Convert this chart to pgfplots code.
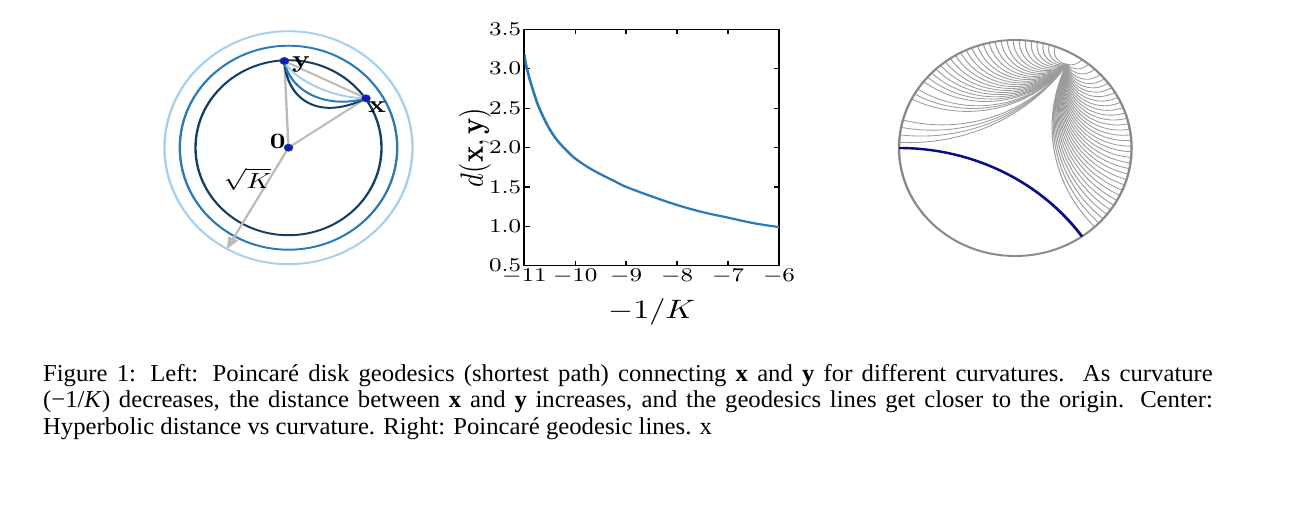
\documentclass[border=0pt]{standalone}
\usepackage[no-math]{fontspec}
\newfontfamily\capfont{Liberation Serif}
\usepackage{graphicx}
\usepackage{pgfplots}
\pgfplotsset{compat=1.18}
\usetikzlibrary{arrows.meta}

\definecolor{lightring}{HTML}{A6D0EE}
\definecolor{midring}{HTML}{2A7AB8}
\definecolor{darkring}{HTML}{163E5E}
\definecolor{curveblue}{HTML}{2A7AB8}
\definecolor{guide}{HTML}{BBBBBB}
\definecolor{diskgrey}{HTML}{8A8A8A}
\definecolor{fangrey}{HTML}{9C9C9C}
\definecolor{geonavy}{HTML}{0B0B8A}
\definecolor{dotblue}{HTML}{1010E0}

% geodesic of the unit disk from boundary angle #3 to the point (#1,#2), style #4
\newcommand\geod[4]{%
  \pgfmathsetmacro\gQx{cos(#3)}%
  \pgfmathsetmacro\gQy{sin(#3)}%
  \pgfmathsetmacro\gT{((\gQx-(#1))^2+(\gQy-(#2))^2)/(2*((#2)*\gQx-(#1)*\gQy))}%
  \pgfmathsetmacro\gCx{\gQx-\gT*\gQy}%
  \pgfmathsetmacro\gCy{\gQy+\gT*\gQx}%
  \pgfmathsetmacro\gR{abs(\gT)}%
  \pgfmathsetmacro\gA{atan2(\gQy-\gCy,\gQx-\gCx)}%
  \pgfmathsetmacro\gB{atan2((#2)-\gCy,(#1)-\gCx)}%
  \pgfmathsetmacro\gD{mod(\gB-\gA+540,360)-180}%
  \pgfmathsetmacro\gK{4/3*tan(\gD/4)*\gR}%
  \pgfmathsetmacro\gEx{\gQx-\gK*sin(\gA)}%
  \pgfmathsetmacro\gEy{\gQy+\gK*cos(\gA)}%
  \pgfmathsetmacro\gFx{(#1)+\gK*sin(\gB)}%
  \pgfmathsetmacro\gFy{(#2)-\gK*cos(\gB)}%
  \draw[#4] (axis cs:\gQx,\gQy) .. controls (axis cs:\gEx,\gEy) and (axis cs:\gFx,\gFy) .. (axis cs:#1,#2);%
}

% boundary angles of the grey geodesics (right panel)
\def\fanangles{70,73,76,79,82,85,88,91,94,97,100,103,106,109,112,115,118,121,124,127,130,133,136,139,142,147,150,153,165,169,173,177,
  55,51,47,43,40,37,34,31,28,25,22,19,16,13,10,7,4,1,-2,-5,-8,-11,-14,-17,-20,-23,-26,-29,-32,-35,-38,-41,-44,-47}

\begin{document}
\scalebox{1.2118}[1]{%
\begin{tikzpicture}
\begin{scope}[x=0.34pt,y=-0.412pt]
  \useasboundingbox (0,0) rectangle (1300,508);
  \coordinate (L) at (150,20);
  \coordinate (M) at (524.3,265.7);
  \coordinate (R) at (899,256);
  \node[anchor=base west, inner sep=0pt] at (42.5,381)
  {\scalebox{0.84}[1]{\parbox[t]{473.5pt}{\capfont\fontsize{10}{11}\selectfont
   Figure 1: Left: Poincaré disk geodesics (shortest path) connecting \textbf{x} and \textbf{y} for different curvatures.\ \ As curvature\linebreak
   (−1/\textit{K}) decreases, the distance between \textbf{x} and \textbf{y} increases, and the geodesics lines get closer to the origin. Center:\linebreak
   Hyperbolic distance vs curvature. Right: Poincaré geodesic lines. x}}};
\end{scope}

% ---------- left: disks of different curvature ----------
\begin{axis}[
  at={(L)}, anchor=north west,
  hide axis, clip=false,
  x=0.34pt, y=0.412pt, y dir=reverse,
  xmin=150, xmax=430, ymin=20, ymax=270,
]
\draw[lightring, line width=0.8pt] (axis cs:288.5,147.7) ellipse [x radius=124, y radius=116.5];
\draw[midring, line width=0.8pt] (axis cs:288.5,147.7) ellipse [x radius=108.7, y radius=102];
\draw[darkring, line width=0.8pt] (axis cs:288.5,147.7) ellipse [x radius=93, y radius=87.5];
\draw[guide, line width=0.8pt] (axis cs:288.5,147.7) -- (axis cs:284.3,61);
\draw[guide, line width=0.8pt] (axis cs:288.5,147.7) -- (axis cs:366,98.3);
\draw[guide, line width=0.8pt] (axis cs:284.3,61) -- (axis cs:366,98.3);
\draw[guide, line width=0.8pt, -{Triangle[length=5pt,width=3.5pt]}] (axis cs:288.5,147.7) -- (axis cs:226.7,249.3);
\draw[darkring, line width=0.8pt] (axis cs:284.3,61) .. controls (axis cs:287,101) and (axis cs:320,121) .. (axis cs:366,98.3);
\draw[midring, line width=0.8pt] (axis cs:284.3,61) .. controls (axis cs:289,90) and (axis cs:325,110) .. (axis cs:366,98.3);
\draw[lightring, line width=0.8pt] (axis cs:284.3,61) .. controls (axis cs:292,78) and (axis cs:330,98) .. (axis cs:366,98.3);
\addplot[only marks, mark=*, mark size=1.4pt, mark options={fill=dotblue, draw=darkring}]
  coordinates {(284.3,61) (366,98.3) (288.5,147.7)};
\node[anchor=base west, inner sep=0pt, font=\fontsize{10}{12}\selectfont] at (axis cs:291.5,67.5) {$\mathbf{y}$};
\node[anchor=base west, inner sep=0pt, font=\fontsize{10}{12}\selectfont] at (axis cs:367.5,112) {$\mathbf{x}$};
\node[anchor=base east, inner sep=0pt, font=\fontsize{9.5}{12}\selectfont] at (axis cs:286,148) {$\mathbf{0}$};
\node[anchor=base west, inner sep=0pt, font=\fontsize{9.5}{12}\selectfont] at (axis cs:223,188) {$\sqrt{K}$};
\end{axis}

% ---------- center: distance vs curvature ----------
\begin{axis}[
  at={(M)}, anchor=south west,
  scale only axis, width=86.6pt, height=97.4pt,
  xmin=-11, xmax=-6, ymin=0.5, ymax=3.5,
  xtick={-11,-10,-9,-8,-7,-6},
  ytick={0.5,1.0,1.5,2.0,2.5,3.0,3.5},
  yticklabel style={/pgf/number format/fixed, /pgf/number format/fixed zerofill, /pgf/number format/precision=1},
  tick align=inside, major tick length=1.8pt,
  tick style={black, line width=0.5pt},
  axis line style={black, line width=0.6pt},
  every tick label/.append style={font=\fontsize{7.8}{9}\selectfont},
  yticklabel style={inner xsep=0.9pt},
  xticklabel style={inner ysep=1.2pt},
  xlabel={$-1/K$},
  ylabel={$d(\mathbf{x},\mathbf{y})$},
  xlabel style={font=\fontsize{10.5}{12}\selectfont, at={(axis description cs:0.5,0)}, anchor=base, yshift=-21.6pt},
  ylabel style={font=\fontsize{11}{12}\selectfont, at={(axis description cs:0,0.5)}, anchor=center, yshift=16.8pt},
]
\addplot[curveblue, line width=0.9pt, smooth, tension=0.6] coordinates {
  (-11.00,3.18) (-10.97,3.06) (-10.94,2.98) (-10.90,2.88) (-10.85,2.77)
  (-10.80,2.67) (-10.75,2.57) (-10.70,2.49) (-10.60,2.35) (-10.50,2.23)
  (-10.40,2.13) (-10.30,2.05) (-10.15,1.95) (-10.00,1.86) (-9.75,1.75)
  (-9.50,1.66) (-9.25,1.58) (-9.00,1.50) (-8.50,1.38) (-8.00,1.27)
  (-7.50,1.18) (-7.00,1.11) (-6.50,1.04) (-6.00,0.99)
};
\end{axis}

% ---------- right: Poincare geodesic lines ----------
\begin{axis}[
  at={(R)}, anchor=south west,
  hide axis, clip=false,
  x=39.54pt, y=44.5pt,
  xmin=-1, xmax=1, ymin=-1, ymax=1,
]
\pgfplotsextra{%
  \foreach \th in \fanangles {\geod{0.445}{0.775}{\th}{fangrey, line width=0.35pt}}
  \draw[diskgrey, line width=0.8pt] (axis cs:0,0) ellipse [x radius=1, y radius=1];
  \geod{-1}{0}{-55}{geonavy, line width=1pt}
}
\end{axis}
\end{tikzpicture}}
\end{document}
